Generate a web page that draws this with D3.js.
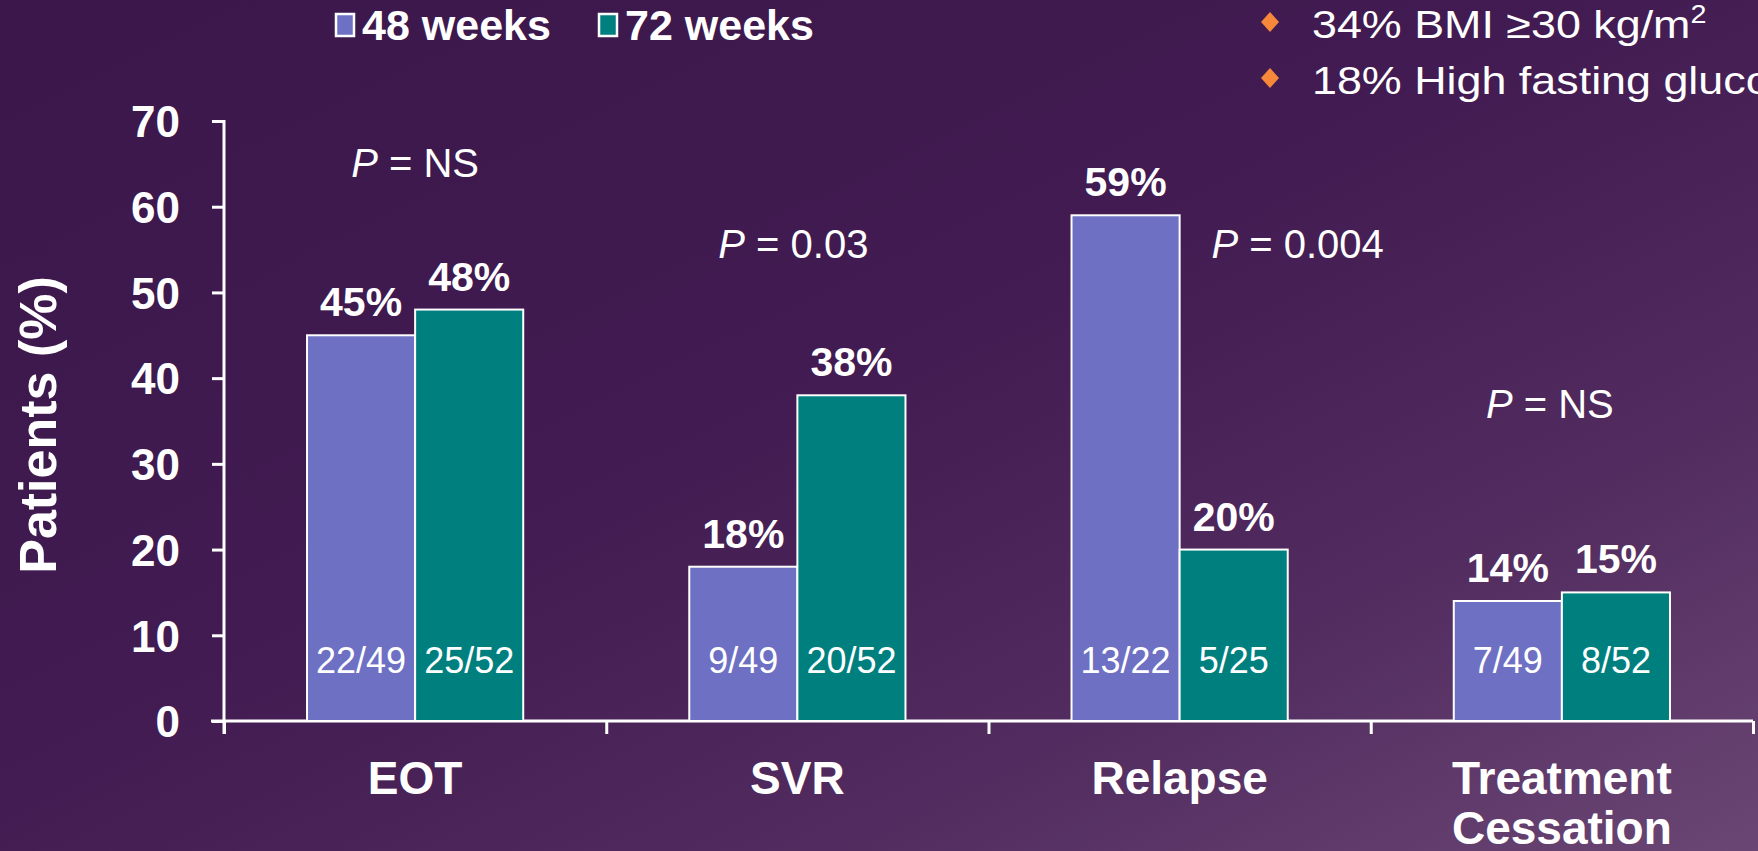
<!DOCTYPE html>
<html>
<head>
<meta charset="utf-8">
<script src="https://cdn.jsdelivr.net/npm/d3@7"></script>
<style>
  html, body { margin: 0; padding: 0; background: #3b174b; overflow: hidden; }
  text { font-family: "Liberation Sans", Arial, sans-serif; fill: #ffffff; }
</style>
</head>
<body>
<div id="chart"></div>
<script>
/* DATA */
const categories = ["EOT", "SVR", "Relapse", "Treatment Cessation"];
const series = ["48 weeks", "72 weeks"];
const weeks48 = [45, 18, 59, 14];
const weeks72 = [48, 38, 20, 15];
const counts48 = ["22/49", "9/49", "13/22", "7/49"];
const counts72 = ["25/52", "20/52", "5/25", "8/52"];
const pValues = ["NS", "0.03", "0.004", "NS"];
const yTicks = [0, 10, 20, 30, 40, 50, 60, 70];
const bullets = ["34% BMI \u226530 kg/m", "18% High fasting glucose"];

/* CONSTANTS AND GLOBALS */
const width = 1758,
  height = 851,
  margin = { top: 121, right: 5, bottom: 130, left: 224 };

const colors = { "48 weeks": "#6e70c4", "72 weeks": "#007f7f" };

// p-value label placement (y in axis units, x offset from band centre)
const pLayout = [
  { y: 63.5, dx: 0 },
  { y: 54, dx: -4 },
  { y: 54, dx: 118 },
  { y: 35.4, dx: -12 }
];

const data = categories.map((c, i) => ({
  cat: c,
  values: [
    { key: "48 weeks", value: weeks48[i], n: counts48[i] },
    { key: "72 weeks", value: weeks72[i], n: counts72[i] }
  ]
}));

/* SCALES */
const xScale = d3.scaleBand()
  .domain(categories)
  .range([margin.left, width - margin.right])
  .padding(0);

const xSub = d3.scaleBand()
  .domain(series)
  .range([0, xScale.bandwidth()])
  .paddingInner(0)
  .paddingOuter(0.768);

const yScale = d3.scaleLinear()
  .domain([0, 70])
  .range([height - margin.bottom, margin.top]);

/* SVG ELEMENTS */
const svg = d3.select("#chart")
  .append("svg")
  .attr("width", width)
  .attr("height", height);

const defs = svg.append("defs");
const grad = defs.append("linearGradient")
  .attr("id", "bg")
  .attr("x1", 0).attr("y1", 0)
  .attr("x2", 1).attr("y2", 1);
grad.append("stop").attr("offset", "0%").attr("stop-color", "#3b174b");
grad.append("stop").attr("offset", "45%").attr("stop-color", "#411b51");
grad.append("stop").attr("offset", "75%").attr("stop-color", "#532d60");
grad.append("stop").attr("offset", "100%").attr("stop-color", "#6a4674");

svg.append("rect")
  .attr("width", width)
  .attr("height", height)
  .attr("fill", "url(#bg)");

/* LEGEND */
const legendX = [336, 599];
const legend = svg.selectAll(".legend")
  .data(series)
  .join("g")
  .attr("class", "legend")
  .attr("transform", (d, i) => `translate(${legendX[i]},14)`);

legend.append("rect")
  .attr("width", 18)
  .attr("height", 22)
  .attr("fill", d => colors[d])
  .attr("stroke", "#ffffff")
  .attr("stroke-width", 2.5);

legend.append("text")
  .attr("x", 26)
  .attr("y", 26)
  .style("font-size", "43px")
  .style("font-weight", "bold")
  .text(d => d);

/* BULLETS (top right) */
const bullet = svg.selectAll(".bullet")
  .data(bullets)
  .join("g")
  .attr("class", "bullet")
  .attr("transform", (d, i) => `translate(1270,${22 + i * 56})`);

bullet.append("path")
  .attr("d", "M0,-10 L9,0 L0,10 L-9,0 Z")
  .attr("fill", "#f7883a");

// the slide's bullet text box is stretched horizontally
const bulletText = bullet.append("g")
  .attr("transform", "translate(42,16) scale(1.15,1)")
  .append("text")
  .style("font-size", "39px");
bulletText.append("tspan").text(d => d);
bulletText.filter((d, i) => i === 0)
  .append("tspan")
  .attr("dy", -15)
  .style("font-size", "25px")
  .text("2");

/* AXES */
// y axis
const yAxis = svg.append("g")
  .attr("class", "y-axis")
  .attr("transform", `translate(${margin.left},0)`)
  .call(d3.axisLeft(yScale).tickValues(yTicks).tickSize(12).tickPadding(32).tickSizeOuter(0));

yAxis.select(".domain").remove();
yAxis.append("line")
  .attr("x1", 0).attr("x2", 0)
  .attr("y1", yScale(70) - 1)
  .attr("y2", yScale(0) + 13)
  .attr("stroke", "#ffffff")
  .attr("stroke-width", 3);
yAxis.selectAll(".tick line")
  .attr("stroke", "#ffffff")
  .attr("stroke-width", 3);
yAxis.selectAll(".tick text")
  .attr("fill", "#ffffff")
  .style("font-size", "44px")
  .style("font-weight", "bold")
  .style("font-family", "'Liberation Sans', Arial, sans-serif")
  .attr("dy", "0.36em");

svg.append("text")
  .attr("transform", `translate(56,${(yScale(0) + yScale(70)) / 2 + 4}) rotate(-90)`)
  .style("text-anchor", "middle")
  .style("font-size", "52px")
  .style("font-weight", "bold")
  .text("Patients (%)");

// x axis: ticks sit on the category boundaries
const boundary = d3.scaleLinear()
  .domain([0, categories.length])
  .range(xScale.range());

const xAxis = svg.append("g")
  .attr("class", "x-axis")
  .attr("transform", `translate(0,${yScale(0)})`)
  .call(d3.axisBottom(boundary).ticks(categories.length).tickFormat("").tickSize(13).tickSizeOuter(0));

xAxis.select(".domain").remove();
xAxis.append("line")
  .attr("x1", margin.left - 13)
  .attr("x2", width - margin.right)
  .attr("stroke", "#ffffff")
  .attr("stroke-width", 3);
xAxis.selectAll(".tick line")
  .attr("stroke", "#ffffff")
  .attr("stroke-width", 3);

// category labels
const catLabel = svg.selectAll(".cat-label")
  .data(categories)
  .join("text")
  .attr("class", "cat-label")
  .attr("x", d => xScale(d) + xScale.bandwidth() / 2)
  .attr("y", 794)
  .style("text-anchor", "middle")
  .style("font-size", "46px")
  .style("font-weight", "bold");

catLabel.each(function(d) {
  const words = d === "Treatment Cessation" ? ["Treatment", "Cessation"] : [d];
  d3.select(this).selectAll("tspan")
    .data(words)
    .join("tspan")
    .attr("x", d3.select(this).attr("x"))
    .attr("dy", (w, i) => i === 0 ? 0 : 50)
    .text(w => w);
});

/* DRAW BARS */
const groups = svg.selectAll(".group")
  .data(data)
  .join("g")
  .attr("class", "group")
  .attr("transform", d => `translate(${xScale(d.cat)},0)`);

groups.selectAll(".bar")
  .data(d => d.values)
  .join("rect")
  .attr("class", "bar")
  .attr("x", d => xSub(d.key))
  .attr("y", d => yScale(d.value))
  .attr("width", xSub.bandwidth())
  .attr("height", d => yScale(0) - yScale(d.value))
  .attr("fill", d => colors[d.key])
  .attr("stroke", "#ffffff")
  .attr("stroke-width", 2);

// value labels
groups.selectAll(".value")
  .data(d => d.values)
  .join("text")
  .attr("class", "value")
  .attr("x", d => xSub(d.key) + xSub.bandwidth() / 2)
  .attr("y", d => yScale(d.value) - 19)
  .style("text-anchor", "middle")
  .style("font-size", "41px")
  .style("font-weight", "bold")
  .text(d => d.value + "%");

// n/N labels inside bars
groups.selectAll(".count")
  .data(d => d.values)
  .join("text")
  .attr("class", "count")
  .attr("x", d => xSub(d.key) + xSub.bandwidth() / 2)
  .attr("y", yScale(0) - 48)
  .style("text-anchor", "middle")
  .style("font-size", "36px")
  .text(d => d.n);

/* P VALUES */
const pText = svg.selectAll(".pval")
  .data(pValues)
  .join("text")
  .attr("class", "pval")
  .attr("x", (d, i) => xScale(categories[i]) + xScale.bandwidth() / 2 + pLayout[i].dx)
  .attr("y", (d, i) => yScale(pLayout[i].y))
  .style("text-anchor", "middle")
  .style("font-size", "40px");

pText.append("tspan").style("font-style", "italic").text("P");
pText.append("tspan").text(d => " = " + d);
</script>
</body>
</html>
